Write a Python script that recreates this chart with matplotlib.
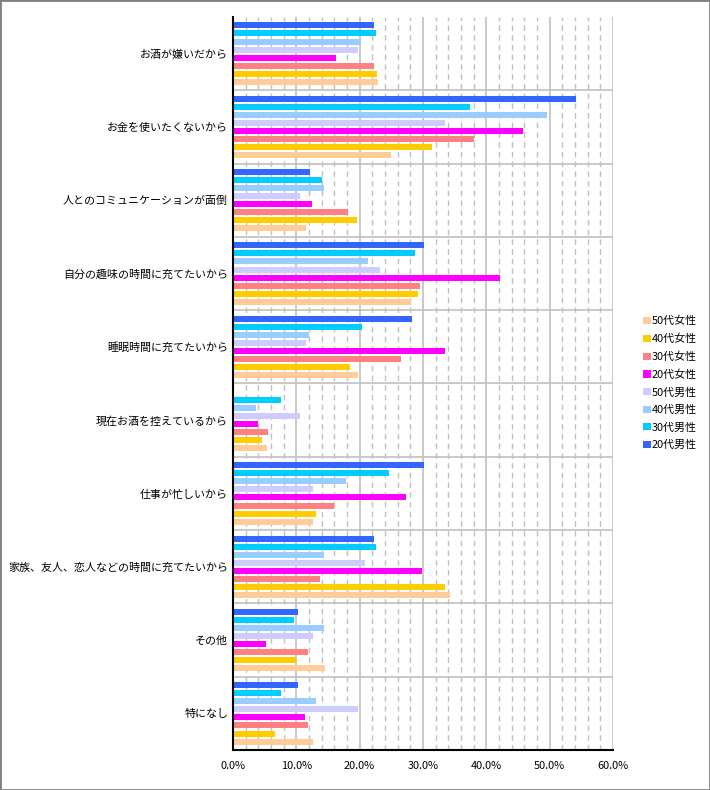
import numpy as np
import matplotlib
matplotlib.use("Agg")
import matplotlib.pyplot as plt
from matplotlib.patches import Rectangle
from matplotlib.ticker import MultipleLocator, FuncFormatter

plt.rcParams['font.family'] = ['Noto Sans CJK JP', 'DejaVu Sans']

# 設問カテゴリ（上から順）
categories = [
    "お酒が嫌いだから",
    "お金を使いたくないから",
    "人とのコミュニケーションが面倒",
    "自分の趣味の時間に充てたいから",
    "睡眠時間に充てたいから",
    "現在お酒を控えているから",
    "仕事が忙しいから",
    "家族、友人、恋人などの時間に充てたいから",
    "その他",
    "特になし",
]

# 各層の回答率（%）
male_20 = [22.2, 54.1, 12.1, 30.1, 28.2, 0.0, 30.1, 22.2, 10.2, 10.2]
male_30 = [22.6, 37.4, 14.0, 28.8, 20.3, 7.5, 24.6, 22.5, 9.7, 7.5]
male_40 = [20.2, 49.6, 14.3, 21.3, 12.0, 3.7, 17.8, 14.3, 14.3, 13.1]
male_50 = [19.7, 33.5, 10.5, 23.2, 11.6, 10.5, 12.7, 20.8, 12.7, 19.7]
female_20 = [16.2, 45.8, 12.4, 42.1, 33.4, 3.9, 27.3, 29.8, 5.2, 11.3]
female_30 = [22.2, 38.1, 18.1, 29.6, 26.5, 5.5, 15.9, 13.8, 11.8, 11.8]
female_40 = [22.7, 31.4, 19.5, 29.2, 18.4, 4.5, 13.1, 33.4, 9.9, 6.6]
female_50 = [22.9, 24.9, 11.5, 28.1, 19.7, 5.3, 12.6, 34.2, 14.6, 12.6]

series_names = ["20代男性", "30代男性", "40代男性", "50代男性",
                "20代女性", "30代女性", "40代女性", "50代女性"]
series_values = [male_20, male_30, male_40, male_50,
                 female_20, female_30, female_40, female_50]
colors = ["#3366FF", "#00CCFF", "#99CCFF", "#CCCCFF",
          "#FF00FF", "#FF8080", "#FFCC00", "#FFCC99"]

W, H = 710, 790
fig = plt.figure(figsize=(W / 100, H / 100), dpi=100)
fig.patches.append(Rectangle((0, 0), 1, 1, transform=fig.transFigure,
                             fill=False, edgecolor="#808080", linewidth=2))

ax = fig.add_axes([233 / W, (H - 750) / H, 380 / W, 733 / H])

pitch = 0.11
bar_h = 0.082
y = np.arange(len(categories))
handles = []
for j, (name, vals, c) in enumerate(zip(series_names, series_values, colors)):
    b = ax.barh(y + (j - 3.5) * pitch, vals, height=bar_h, color=c,
                label=name, zorder=3)
    handles.append(b)

ax.set_xlim(0, 60)
ax.set_ylim(len(categories) - 0.5, -0.5)

ax.xaxis.set_major_locator(MultipleLocator(10))
ax.xaxis.set_minor_locator(MultipleLocator(2))
ax.xaxis.set_major_formatter(FuncFormatter(lambda v, p: f"{v:.1f}%"))
ax.grid(axis="x", which="major", color="#C0C0C0", linewidth=1.2, zorder=0)
ax.grid(axis="x", which="minor", color="#C0C0C0", linewidth=1,
        linestyle=(0, (4, 3)), zorder=0)

ax.set_yticks(y)
ax.set_yticklabels(categories)
ax.set_yticks(np.arange(0.5, len(categories) - 0.5, 1), minor=True)
ax.grid(axis="y", which="minor", color="#C0C0C0", linewidth=1.2, zorder=0)

ax.tick_params(axis="both", which="both", length=0, labelsize=7.9,
               colors="#000000")
ax.tick_params(axis="x", pad=8)
ax.tick_params(axis="y", pad=3.5)

for s in ("top", "right"):
    ax.spines[s].set_visible(False)
ax.spines["left"].set_linewidth(1.5)
ax.spines["bottom"].set_linewidth(1.5)
ax.spines["left"].set_zorder(5)
ax.spines["bottom"].set_zorder(5)

fig.legend(handles[::-1], series_names[::-1], loc="center left",
           bbox_to_anchor=(638 / W, 1 - 383 / H), frameon=False,
           fontsize=7.9, handlelength=0.65, handleheight=0.65,
           handletextpad=0.1, labelspacing=0.68, borderpad=0)

fig.savefig("out.png", dpi=100)
